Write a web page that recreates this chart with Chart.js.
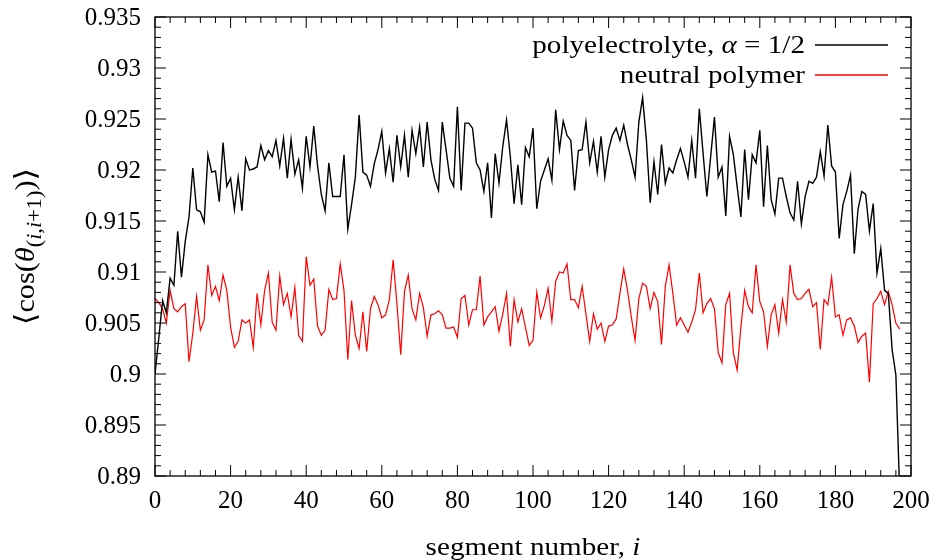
<!DOCTYPE html>
<html lang="en">
<head>
<meta charset="utf-8">
<script src="https://cdn.jsdelivr.net/npm/chart.js"></script>
<title>Bond angle correlation</title>
<style>
  html, body { margin: 0; padding: 0; background: #fff; }
  #wrap { width: 937px; height: 560px; }
</style>
</head>
<body>
<div id="wrap"><canvas id="chart" width="937" height="560"></canvas></div>
<script>
// segment index i
const segments = Array.from({length: 198}, (_, i) => i);

// polyelectrolyte, alpha = 1/2 (black)
const polyelectrolyte = [
  0.9000, 0.9035, 0.9072, 0.9060, 0.9094, 0.9087, 0.9140, 0.9095, 0.9130, 0.9154,
  0.9202, 0.9161, 0.9159, 0.9149, 0.9215, 0.9198, 0.9199, 0.9169, 0.9227, 0.9184,
  0.9192, 0.9161, 0.9193, 0.9160, 0.9211, 0.9200, 0.9201, 0.9203, 0.9224, 0.9210,
  0.9219, 0.9213, 0.9229, 0.9204, 0.9231, 0.9192, 0.9230, 0.9196, 0.9210, 0.9182,
  0.9233, 0.9203, 0.9243, 0.9204, 0.9176, 0.9160, 0.9207, 0.9174, 0.9174, 0.9174,
  0.9215, 0.9142, 0.9166, 0.9193, 0.9254, 0.9198, 0.9195, 0.9184, 0.9206, 0.9220,
  0.9238, 0.9197, 0.9221, 0.9188, 0.9234, 0.9203, 0.9234, 0.9193, 0.9239, 0.9216,
  0.9242, 0.9203, 0.9247, 0.9210, 0.9191, 0.9180, 0.9247, 0.9220, 0.9192, 0.9184,
  0.9262, 0.9180, 0.9246, 0.9246, 0.9241, 0.9207, 0.9200, 0.9179, 0.9207, 0.9153,
  0.9216, 0.9187, 0.9223, 0.9249, 0.9213, 0.9167, 0.9205, 0.9166, 0.9222, 0.9213,
  0.9241, 0.9162, 0.9189, 0.9200, 0.9211, 0.9190, 0.9259, 0.9220, 0.9248, 0.9234,
  0.9229, 0.9180, 0.9219, 0.9220, 0.9247, 0.9207, 0.9228, 0.9198, 0.9233, 0.9193,
  0.9220, 0.9234, 0.9241, 0.9229, 0.9244, 0.9225, 0.9210, 0.9193, 0.9247, 0.9271,
  0.9229, 0.9168, 0.9208, 0.9176, 0.9225, 0.9187, 0.9202, 0.9197, 0.9210, 0.9221,
  0.9208, 0.9193, 0.9229, 0.9192, 0.9260, 0.9216, 0.9174, 0.9213, 0.9252, 0.9193,
  0.9203, 0.9155, 0.9233, 0.9215, 0.9184, 0.9154, 0.9220, 0.9171, 0.9215, 0.9207,
  0.9239, 0.9164, 0.9224, 0.9171, 0.9157, 0.9192, 0.9192, 0.9174, 0.9158, 0.9151,
  0.9189, 0.9147, 0.9174, 0.9189, 0.9187, 0.9193, 0.9218, 0.9194, 0.9244, 0.9204,
  0.9198, 0.9133, 0.9166, 0.9179, 0.9195, 0.9118, 0.9162, 0.9179, 0.9176, 0.9140,
  0.9167, 0.9099, 0.9123, 0.9082, 0.9079, 0.9024, 0.8999, 0.8885
];

// neutral polymer (red)
const neutral = [
  0.9074, 0.9070, 0.9064, 0.9050, 0.9082, 0.9064, 0.9061, 0.9066, 0.9069, 0.9012,
  0.9040, 0.9076, 0.9043, 0.9053, 0.9107, 0.9077, 0.9086, 0.9072, 0.9097, 0.9082,
  0.9046, 0.9026, 0.9032, 0.9053, 0.9050, 0.9053, 0.9026, 0.9079, 0.9048, 0.9082,
  0.9099, 0.9051, 0.9043, 0.9096, 0.9068, 0.9079, 0.9056, 0.9085, 0.9038, 0.9032,
  0.9115, 0.9087, 0.9093, 0.9047, 0.9038, 0.9043, 0.9083, 0.9073, 0.9074, 0.9108,
  0.9082, 0.9014, 0.9072, 0.9038, 0.9025, 0.9061, 0.9022, 0.9064, 0.9076, 0.9068,
  0.9055, 0.9058, 0.9073, 0.9112, 0.9069, 0.9019, 0.9081, 0.9097, 0.9064, 0.9053,
  0.9079, 0.9065, 0.9037, 0.9058, 0.9059, 0.9062, 0.9058, 0.9045, 0.9045, 0.9046,
  0.9036, 0.9074, 0.9077, 0.9048, 0.9063, 0.9063, 0.9096, 0.9048, 0.9056, 0.9061,
  0.9066, 0.9042, 0.9059, 0.9079, 0.9027, 0.9073, 0.9051, 0.9064, 0.9046, 0.9028,
  0.9033, 0.9080, 0.9055, 0.9067, 0.9084, 0.9052, 0.9091, 0.9100, 0.9099, 0.9108,
  0.9073, 0.9073, 0.9065, 0.9086, 0.9059, 0.9032, 0.9059, 0.9044, 0.9050, 0.9032,
  0.9047, 0.9048, 0.9054, 0.9079, 0.9103, 0.9082, 0.9056, 0.9033, 0.9074, 0.9089,
  0.9086, 0.9064, 0.9080, 0.9071, 0.9029, 0.9086, 0.9107, 0.9079, 0.9048, 0.9055,
  0.9048, 0.9041, 0.9051, 0.9063, 0.9099, 0.9060, 0.9069, 0.9074, 0.9064, 0.9021,
  0.9011, 0.9068, 0.9079, 0.9021, 0.9004, 0.9046, 0.9082, 0.9066, 0.9060, 0.9107,
  0.9071, 0.9061, 0.9027, 0.9058, 0.9068, 0.9040, 0.9073, 0.9051, 0.9107, 0.9079,
  0.9073, 0.9074, 0.9079, 0.9083, 0.9066, 0.9070, 0.9024, 0.9073, 0.9068, 0.9095,
  0.9056, 0.9058, 0.9038, 0.9053, 0.9055, 0.9047, 0.9031, 0.9037, 0.9040, 0.8992,
  0.9069, 0.9074, 0.9081, 0.9068, 0.9081, 0.9068, 0.9050, 0.9044
];

// axis ticks
const xTickValues = [0, 20, 40, 60, 80, 100, 120, 140, 160, 180, 200];
const yTickLabels = ['0.89', '0.895', '0.9', '0.905', '0.91', '0.915', '0.92', '0.925', '0.93', '0.935'];

const SERIF = '"Liberation Serif", "DejaVu Serif", serif';
const STRETCH = 1.12;   // widen Times-like glyphs towards Computer Modern

// text made of several runs [{t, font, dy}], drawn left to right
function runsWidth(ctx, runs) {
  let w = 0;
  runs.forEach(r => { ctx.font = r.font; w += ctx.measureText(r.t).width; });
  return w * STRETCH;
}
function drawRuns(ctx, runs, x, y) {
  ctx.save();
  ctx.translate(x, y);
  ctx.scale(STRETCH, 1);
  let cx = 0;
  runs.forEach(r => {
    ctx.font = r.font;
    ctx.fillText(r.t, cx, r.dy || 0);
    cx += ctx.measureText(r.t).width;
  });
  ctx.restore();
}

const gnuFrame = {
  id: 'gnuFrame',
  afterDatasetsDraw(chart) {
    const ctx = chart.ctx;
    const a = chart.chartArea;
    const xs = chart.scales.x, ys = chart.scales.y;
    ctx.save();
    ctx.strokeStyle = '#000';
    ctx.fillStyle = '#000';
    ctx.lineWidth = 1.3;
    ctx.strokeRect(a.left, a.top, a.right - a.left, a.bottom - a.top);

    const major = 11, minor = 6;
    ctx.beginPath();
    // x ticks, bottom and top (mirrored)
    for (let k = 0; k < xTickValues.length; k++) {
      const px = xs.getPixelForValue(xTickValues[k]);
      ctx.moveTo(px, a.bottom); ctx.lineTo(px, a.bottom - major);
      ctx.moveTo(px, a.top); ctx.lineTo(px, a.top + major);
      if (k < xTickValues.length - 1) {
        const step = (xTickValues[k + 1] - xTickValues[k]) / 5;
        for (let m = 1; m < 5; m++) {
          const pm = xs.getPixelForValue(xTickValues[k] + m * step);
          ctx.moveTo(pm, a.bottom); ctx.lineTo(pm, a.bottom - minor);
          ctx.moveTo(pm, a.top); ctx.lineTo(pm, a.top + minor);
        }
      }
    }
    // y ticks, left and right (mirrored)
    for (let k = 0; k < yTickLabels.length; k++) {
      const v = parseFloat(yTickLabels[k]);
      const py = ys.getPixelForValue(v);
      ctx.moveTo(a.left, py); ctx.lineTo(a.left + major, py);
      ctx.moveTo(a.right, py); ctx.lineTo(a.right - major, py);
      if (k < yTickLabels.length - 1) {
        const step = (parseFloat(yTickLabels[k + 1]) - v) / 5;
        for (let m = 1; m < 5; m++) {
          const pm = ys.getPixelForValue(v + m * step);
          ctx.moveTo(a.left, pm); ctx.lineTo(a.left + minor, pm);
          ctx.moveTo(a.right, pm); ctx.lineTo(a.right - minor, pm);
        }
      }
    }
    ctx.lineWidth = 1;
    ctx.stroke();

    // tick labels
    ctx.font = '25px ' + SERIF;
    ctx.textBaseline = 'middle';
    ctx.textAlign = 'center';
    xTickValues.forEach(v => ctx.fillText(String(v), xs.getPixelForValue(v), 501));
    ctx.textAlign = 'right';
    yTickLabels.forEach(l => ctx.fillText(l, a.left - 14, ys.getPixelForValue(parseFloat(l)) + 1));

    // x axis title
    ctx.textAlign = 'left';
    ctx.textBaseline = 'alphabetic';
    const up = '26px ' + SERIF, it = 'italic 26px ' + SERIF;
    const xt = [{t: 'segment number, ', font: up}, {t: 'i', font: it}];
    drawRuns(ctx, xt, (a.left + a.right) / 2 - runsWidth(ctx, xt) / 2, 555);

    // y axis title, rotated
    const yUp = '27px ' + SERIF, yIt = 'italic 27px ' + SERIF;
    const sub = '20px ' + SERIF, subIt = 'italic 20px ' + SERIF, big = '29px ' + SERIF;
    const yt = [
      {t: '\u27E8', font: big, dy: 1}, {t: 'cos(', font: yUp}, {t: '\u03B8', font: yIt},
      {t: '(', font: sub, dy: 7}, {t: 'i', font: subIt, dy: 7}, {t: ',', font: sub, dy: 7},
      {t: 'i', font: subIt, dy: 7}, {t: '+1)', font: sub, dy: 7},
      {t: ')', font: yUp}, {t: '\u27E9', font: big, dy: 1}
    ];
    ctx.save();
    ctx.translate(34, (a.top + a.bottom) / 2);
    ctx.rotate(-Math.PI / 2);
    drawRuns(ctx, yt, -runsWidth(ctx, yt) / 2, 0);
    ctx.restore();

    // legend, top right inside the frame
    const rows = [
      {runs: [{t: 'polyelectrolyte, ', font: up}, {t: '\u03B1', font: it}, {t: ' = 1/2', font: up}], color: '#000', y: 45},
      {runs: [{t: 'neutral polymer', font: up}], color: '#ff0000', y: 75}
    ];
    rows.forEach(r => {
      ctx.fillStyle = '#000';
      drawRuns(ctx, r.runs, 805 - runsWidth(ctx, r.runs), r.y + 8);
      ctx.strokeStyle = r.color;
      ctx.lineWidth = 1.3;
      ctx.beginPath();
      ctx.moveTo(815, r.y); ctx.lineTo(888, r.y);
      ctx.stroke();
    });
    ctx.restore();
  }
};

new Chart(document.getElementById('chart'), {
  type: 'line',
  data: {
    labels: segments,
    datasets: [
      {label: 'polyelectrolyte, \u03B1 = 1/2', data: polyelectrolyte, borderColor: '#000', borderWidth: 1.4},
      {label: 'neutral polymer', data: neutral, borderColor: '#ff0000', borderWidth: 1.2}
    ]
  },
  options: {
    responsive: false,
    animation: false,
    layout: {padding: {left: 155, right: 26, top: 17, bottom: 84}},
    elements: {point: {radius: 0}, line: {tension: 0}},
    plugins: {legend: {display: false}, tooltip: {enabled: false}},
    scales: {
      x: {type: 'linear', min: 0, max: 200, display: false},
      y: {min: 0.89, max: 0.935, display: false}
    }
  },
  plugins: [gnuFrame]
});
</script>
</body>
</html>
